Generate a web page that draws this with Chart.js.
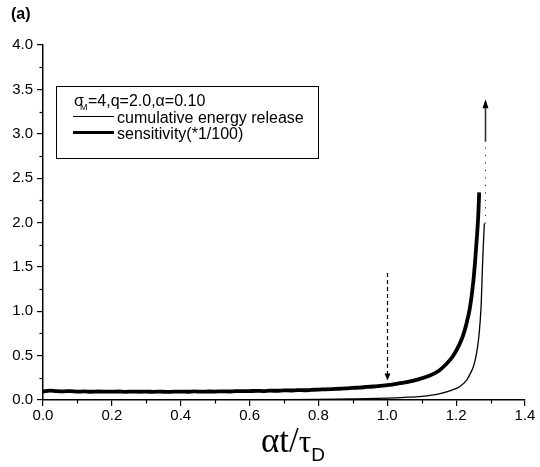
<!DOCTYPE html>
<html>
<head>
<meta charset="utf-8">
<script src="https://cdn.jsdelivr.net/npm/chart.js@4.4.1/dist/chart.umd.min.js"></script>
<style>
  html, body { margin: 0; padding: 0; background: #fff; }
  #wrap { width: 540px; height: 467px; }
</style>
</head>
<body>
<div id="wrap"><canvas id="myChart" width="540" height="467"></canvas></div>
<script>
// sensitivity (*1/100), thick noisy curve
var sensX = [0.00, 0.02, 0.04, 0.06, 0.08, 0.10, 0.12, 0.14, 0.16, 0.18,
             0.20, 0.22, 0.24, 0.26, 0.28, 0.30, 0.32, 0.34, 0.36, 0.38,
             0.40, 0.42, 0.44, 0.46, 0.48, 0.50, 0.52, 0.54, 0.56, 0.58,
             0.60, 0.62, 0.64, 0.66, 0.68, 0.70, 0.72, 0.74, 0.76, 0.78,
             0.80, 0.82, 0.84, 0.86, 0.88, 0.90, 0.92, 0.94, 0.96, 0.98,
             1.00, 1.03, 1.06, 1.09, 1.12, 1.15, 1.17, 1.19, 1.21, 1.22,
             1.23, 1.24, 1.25, 1.255, 1.26, 1.264, 1.267];
var sensY = [0.095, 0.106, 0.100, 0.098, 0.101, 0.094, 0.097, 0.093, 0.096, 0.095,
             0.094, 0.096, 0.092, 0.095, 0.093, 0.094, 0.092, 0.095, 0.091, 0.094,
             0.095, 0.093, 0.097, 0.094, 0.096, 0.095, 0.098, 0.096, 0.100, 0.099,
             0.100, 0.103, 0.101, 0.105, 0.104, 0.108, 0.107, 0.111, 0.110, 0.114,
             0.118, 0.120, 0.123, 0.127, 0.130, 0.136, 0.140, 0.147, 0.152, 0.160,
             0.168, 0.185, 0.205, 0.232, 0.270, 0.330, 0.400, 0.490, 0.630, 0.725,
             0.860, 1.040, 1.340, 1.560, 1.820, 2.060, 2.340];

// cumulative energy release, thin curve
var cumX = [0.00, 0.50, 0.60, 0.70, 0.80, 0.90, 1.00, 1.05, 1.10, 1.15,
            1.19, 1.21, 1.23, 1.24, 1.25, 1.258, 1.265, 1.270, 1.273, 1.276,
            1.279, 1.282];
var cumY = [0.000, 0.000, 0.001, 0.003, 0.007, 0.013, 0.022, 0.030, 0.042, 0.070,
            0.115, 0.150, 0.220, 0.290, 0.375, 0.500, 0.680, 0.900, 1.100, 1.450,
            1.750, 1.990];

var xTicks = [0.0, 0.2, 0.4, 0.6, 0.8, 1.0, 1.2, 1.4];
var yTicks = [0.0, 0.5, 1.0, 1.5, 2.0, 2.5, 3.0, 3.5, 4.0];

// annotations: [x, yFrom, yTo]
var dashedArrow = [1.0, 1.43, 0.22];
var dottedLine = [1.284, 1.99, 2.91];
var solidArrow = [1.284, 2.91, 3.39];

var legendTitle = ['\u03c3', 'M', '=4,q=2.0,\u03b1=0.10'];
var legendLabels = ['cumulative energy release', 'sensitivity(*1/100)'];

function toPoints(xs, ys) {
    var pts = [];
    for (var i = 0; i < xs.length; i++) pts.push({ x: xs[i], y: ys[i] });
    return pts;
}

function arrowHead(ctx, x, y, dir, w, h) {
    ctx.beginPath();
    ctx.moveTo(x, y);
    ctx.lineTo(x - w / 2, y - dir * h);
    ctx.lineTo(x + w / 2, y - dir * h);
    ctx.closePath();
    ctx.fill();
}

var extras = {
    id: 'extras',
    afterDraw: function(chart) {
        var ctx = chart.ctx;
        var xs = chart.scales.x, ys = chart.scales.y;
        var i, p;
        ctx.save();
        ctx.strokeStyle = '#000';
        ctx.fillStyle = '#000';

        // minor ticks
        ctx.lineWidth = 1.2;
        for (i = 0; i < xTicks.length - 1; i++) {
            p = Math.round(xs.getPixelForValue((xTicks[i] + xTicks[i + 1]) / 2)) + 0.5;
            ctx.beginPath();
            ctx.moveTo(p, ys.bottom);
            ctx.lineTo(p, ys.bottom + 3.5);
            ctx.stroke();
        }
        for (i = 0; i < yTicks.length - 1; i++) {
            p = Math.round(ys.getPixelForValue((yTicks[i] + yTicks[i + 1]) / 2)) + 0.5;
            ctx.beginPath();
            ctx.moveTo(xs.left, p);
            ctx.lineTo(xs.left - 3.5, p);
            ctx.stroke();
        }

        // dashed arrow
        var ax = Math.round(xs.getPixelForValue(dashedArrow[0])) + 0.5;
        var ay1 = ys.getPixelForValue(dashedArrow[1]);
        var ay2 = ys.getPixelForValue(dashedArrow[2]);
        ctx.lineWidth = 1.2;
        ctx.setLineDash([4, 3]);
        ctx.beginPath();
        ctx.moveTo(ax, ay1);
        ctx.lineTo(ax, ay2 - 6);
        ctx.stroke();
        ctx.setLineDash([]);
        arrowHead(ctx, ax, ay2, 1, 6, 7);

        // dotted line
        var bx = Math.round(xs.getPixelForValue(dottedLine[0])) + 0.5;
        var by1 = ys.getPixelForValue(dottedLine[1]);
        var by2 = ys.getPixelForValue(dottedLine[2]);
        ctx.setLineDash([1, 6.5]);
        ctx.lineWidth = 1;
        ctx.beginPath();
        ctx.moveTo(bx, by1);
        ctx.lineTo(bx, by2);
        ctx.stroke();
        ctx.setLineDash([]);

        // solid arrow up
        var cy1 = ys.getPixelForValue(solidArrow[1]);
        var cy2 = ys.getPixelForValue(solidArrow[2]);
        ctx.strokeStyle = '#333';
        ctx.lineWidth = 1.6;
        ctx.beginPath();
        ctx.moveTo(bx, cy1);
        ctx.lineTo(bx, cy2 + 6);
        ctx.stroke();
        arrowHead(ctx, bx, cy2, -1, 6, 9);

        // legend box
        ctx.strokeStyle = '#000';
        ctx.lineWidth = 1;
        ctx.strokeRect(56.5, 86.5, 262, 72);
        ctx.textBaseline = 'alphabetic';
        ctx.font = '16px "Liberation Sans", Arial, sans-serif';
        ctx.fillText(legendTitle[0], 74, 106);
        ctx.font = '9px "Liberation Sans", Arial, sans-serif';
        ctx.fillText(legendTitle[1], 80, 110);
        ctx.font = '16px "Liberation Sans", Arial, sans-serif';
        ctx.fillText(legendTitle[2], 88, 106);
        ctx.fillText(legendLabels[0], 117, 122.5);
        ctx.fillText(legendLabels[1], 117, 138.5);
        ctx.lineWidth = 1.2;
        ctx.beginPath();
        ctx.moveTo(73, 116.5);
        ctx.lineTo(114, 116.5);
        ctx.stroke();
        ctx.lineWidth = 3;
        ctx.beginPath();
        ctx.moveTo(73, 132.5);
        ctx.lineTo(114, 132.5);
        ctx.stroke();

        // panel label
        ctx.font = 'bold 16px "Liberation Sans", Arial, sans-serif';
        ctx.fillText('(a)', 11, 19);

        // x axis title
        ctx.font = '35px "Liberation Serif", "Times New Roman", serif';
        var tx = 261;
        ctx.fillText('\u03b1t/', tx, 452);
        tx += ctx.measureText('\u03b1t/').width;
        ctx.font = '31px "Liberation Serif", "Times New Roman", serif';
        ctx.fillText('\u03c4', tx, 452);
        tx += ctx.measureText('\u03c4').width;
        ctx.font = '19px "Liberation Sans", Arial, sans-serif';
        ctx.fillText('D', tx, 461);

        ctx.restore();
    }
};

window.addEventListener('DOMContentLoaded', function() {
    var ctx = document.getElementById('myChart').getContext('2d');
    var tickFont = { family: '"Liberation Sans", Arial, sans-serif', size: 15 };

    var chart = new Chart(ctx, {
        type: 'scatter',
        data: {
            datasets: [{
                label: legendLabels[0],
                data: toPoints(cumX, cumY),
                showLine: true,
                borderColor: '#000',
                borderWidth: 1.3,
                pointRadius: 0,
                cubicInterpolationMode: 'monotone'
            }, {
                label: legendLabels[1],
                data: toPoints(sensX, sensY),
                showLine: true,
                borderColor: '#000',
                borderWidth: 3.8,
                pointRadius: 0,
                cubicInterpolationMode: 'monotone'
            }]
        },
        options: {
            responsive: false,
            animation: false,
            layout: { padding: { left: 0, top: 45, right: 15, bottom: 0 } },
            plugins: {
                legend: { display: false },
                tooltip: { enabled: false }
            },
            scales: {
                x: {
                    type: 'linear',
                    min: 0, max: 1.4,
                    afterFit: function(scale) { scale.height = 67; },
                    afterBuildTicks: function(scale) {
                        scale.ticks = xTicks.map(function(v) { return { value: v }; });
                    },
                    ticks: {
                        color: '#000', font: tickFont, padding: 1, maxRotation: 0,
                        callback: function(v) { return Number(v).toFixed(1); }
                    },
                    grid: { display: true, drawOnChartArea: false, drawTicks: true, tickLength: 6, color: '#000', lineWidth: 1.2 },
                    border: { display: true, color: '#000', width: 1.5 }
                },
                y: {
                    type: 'linear',
                    min: 0, max: 4,
                    afterFit: function(scale) { scale.width = 43; },
                    afterBuildTicks: function(scale) {
                        scale.ticks = yTicks.map(function(v) { return { value: v }; });
                    },
                    ticks: {
                        color: '#000', font: tickFont, padding: 4,
                        callback: function(v) { return Number(v).toFixed(1); }
                    },
                    grid: { display: true, drawOnChartArea: false, drawTicks: true, tickLength: 6, color: '#000', lineWidth: 1.2 },
                    border: { display: true, color: '#000', width: 1.5 }
                }
            }
        },
        plugins: [extras]
    });
});
</script>
</body>
</html>
